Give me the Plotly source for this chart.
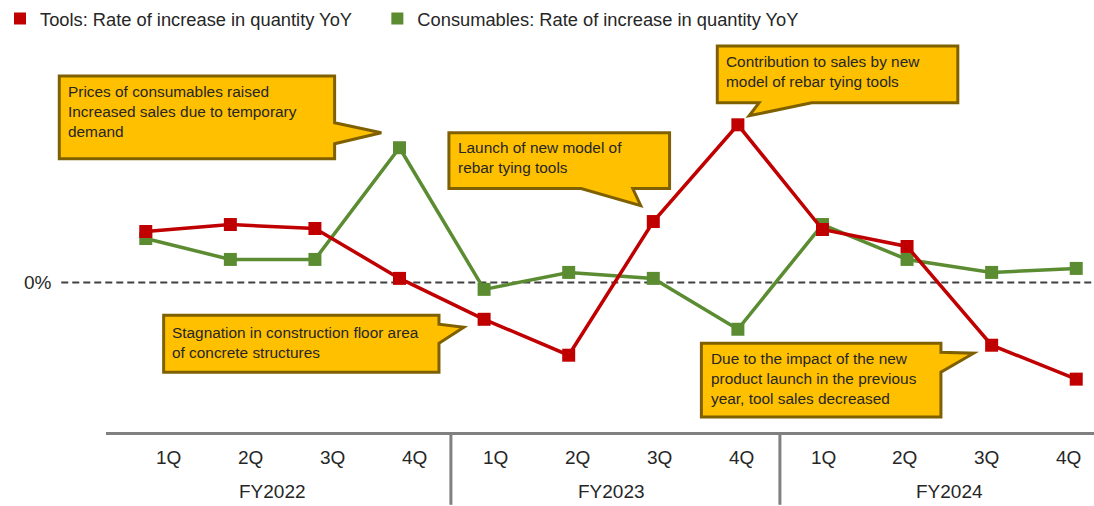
import plotly.graph_objects as go

# ---------------- data ----------------
quarters = ["1Q", "2Q", "3Q", "4Q"] * 3
fiscal_years = ["FY2022", "FY2023", "FY2024"]
tools_yoy = [5.1, 5.8, 5.4, 0.4, -3.7, -7.3, 6.1, 15.8, 5.3, 3.6, -6.3, -9.7]
consumables_yoy = [4.4, 2.3, 2.3, 13.5, -0.7, 1.0, 0.4, -4.7, 5.8, 2.3, 1.0, 1.4]
tools_name = "Tools: Rate of increase in quantity YoY"
cons_name = "Consumables: Rate of increase in quantity YoY"

callout_texts = [
    "Prices of consumables raised<br>Increased sales due to temporary<br>demand",
    "Launch of new model of<br>rebar tying tools",
    "Contribution to sales by new<br>model of rebar tying tools",
    "Stagnation in construction floor area<br>of concrete structures",
    "Due to the impact of the new<br>product launch in the previous<br>year, tool sales decreased",
]

# ---------------- layout geometry ----------------
W, H = 1094, 506
ML, MR, MT, MB = 100, 0, 40, 74
PW, PH = W - ML - MR, H - MT - MB
XR = [-0.470, 11.210]
YR = [-15.0, 24.2]

RED = "#C00000"
GREEN = "#5B8C32"
GOLD = "#FFC000"
GOLD_EDGE = "#7F6000"
TXT = "#262626"
FONT = "Liberation Sans, Arial, sans-serif"


def px(x):  # pixel -> paper x
    return (x - ML) / PW


def py(y):  # pixel -> paper y
    return (H - MB - y) / PH


idx = list(range(len(quarters)))

fig = go.Figure()
fig.add_trace(go.Scatter(x=idx, y=consumables_yoy, mode="lines+markers",
                         line=dict(color=GREEN, width=3.5),
                         marker=dict(symbol="square", size=13, color=GREEN),
                         showlegend=False, cliponaxis=False))
fig.add_trace(go.Scatter(x=idx, y=tools_yoy, mode="lines+markers",
                         line=dict(color=RED, width=3.5),
                         marker=dict(symbol="square", size=13, color=RED),
                         showlegend=False, cliponaxis=False))
# legend entries (square swatches)
fig.add_trace(go.Scatter(x=[None], y=[None], mode="markers", name=tools_name,
                         marker=dict(symbol="square", size=14, color=RED), legend="legend"))
fig.add_trace(go.Scatter(x=[None], y=[None], mode="markers", name=cons_name,
                         marker=dict(symbol="square", size=14, color=GREEN), legend="legend2"))

shapes = []
annotations = []

# zero line
shapes.append(dict(type="line", xref="paper", yref="paper",
                   x0=px(55), x1=px(1094), y0=py(282), y1=py(282),
                   line=dict(color="#404040", width=2, dash="7px,4px"), layer="below"))
annotations.append(dict(text="0%", xref="paper", yref="paper", x=px(48), y=py(282),
                        xanchor="right", yanchor="middle", showarrow=False,
                        font=dict(size=19, color=TXT, family=FONT)))

# group separators
for sx in [447, 778]:
    shapes.append(dict(type="line", xref="paper", yref="paper",
                       x0=px(sx), x1=px(sx), y0=py(432), y1=py(505),
                       line=dict(color="#808080", width=3)))

# quarter labels
for i, q in enumerate(quarters):
    lx = 163 + 82.3 * i
    annotations.append(dict(text=q, xref="paper", yref="paper", x=px(lx), y=py(458),
                            xanchor="center", yanchor="middle", showarrow=False,
                            font=dict(size=19, color=TXT, family=FONT)))
for k, fy in enumerate(fiscal_years):
    annotations.append(dict(text=fy, xref="x", yref="paper", x=1.5 + 4 * k, y=py(492),
                            xanchor="center", yanchor="middle", showarrow=False,
                            font=dict(size=19, color=TXT, family=FONT)))

# callouts (pixel polygons)
callout_polys = [
    [(53, 75), (330, 75), (330, 122), (377, 132), (330, 143), (330, 158), (53, 158)],
    [(445, 132), (667, 132), (667, 188), (630, 188), (638, 205), (578, 188), (445, 188)],
    [(715, 45), (957, 45), (957, 102), (810, 102), (747, 115), (757, 102), (715, 102)],
    [(158, 315), (435, 315), (435, 324), (460, 327), (435, 343), (435, 372), (158, 372)],
    [(699, 343), (940, 343), (940, 352), (973, 353), (940, 372), (940, 417), (699, 417)],
]
text_anchor = [(60, 111), (452, 157), (722, 71), (164, 342.5), (707, 378.5)]

for poly, (tx, ty), txt in zip(callout_polys, text_anchor, callout_texts):
    path = "M " + " L ".join(f"{px(a):.5f},{py(b):.5f}" for a, b in poly) + " Z"
    shapes.append(dict(type="path", xref="paper", yref="paper", path=path,
                       fillcolor=GOLD, line=dict(color=GOLD_EDGE, width=3), layer="above"))
    annotations.append(dict(text=txt, xref="paper", yref="paper", x=px(tx), y=py(ty),
                            xanchor="left", yanchor="middle", align="left", showarrow=False,
                            font=dict(size=15.4, color=TXT, family=FONT)))

legend_common = dict(orientation="h", yanchor="top", xanchor="left", y=py(-1),
                     font=dict(size=18.3, color=TXT, family=FONT),
                     bgcolor="rgba(0,0,0,0)", itemsizing="constant")

fig.update_layout(
    width=W, height=H,
    margin=dict(l=ML, r=MR, t=MT, b=MB),
    paper_bgcolor="white", plot_bgcolor="white",
    font=dict(family=FONT, color=TXT),
    xaxis=dict(range=XR, showgrid=False, zeroline=False, showticklabels=False,
               showline=True, linecolor="#808080", linewidth=3, ticks=""),
    yaxis=dict(range=YR, showgrid=False, zeroline=False, showticklabels=False,
               showline=False, ticks=""),
    legend=dict(x=px(-7), **legend_common),
    legend2=dict(x=px(373), **legend_common),
    shapes=shapes,
    annotations=annotations,
)

fig.write_html("out.html", config={"displayModeBar": False},
               post_script="document.body.style.margin='0';document.body.style.padding='0';")
